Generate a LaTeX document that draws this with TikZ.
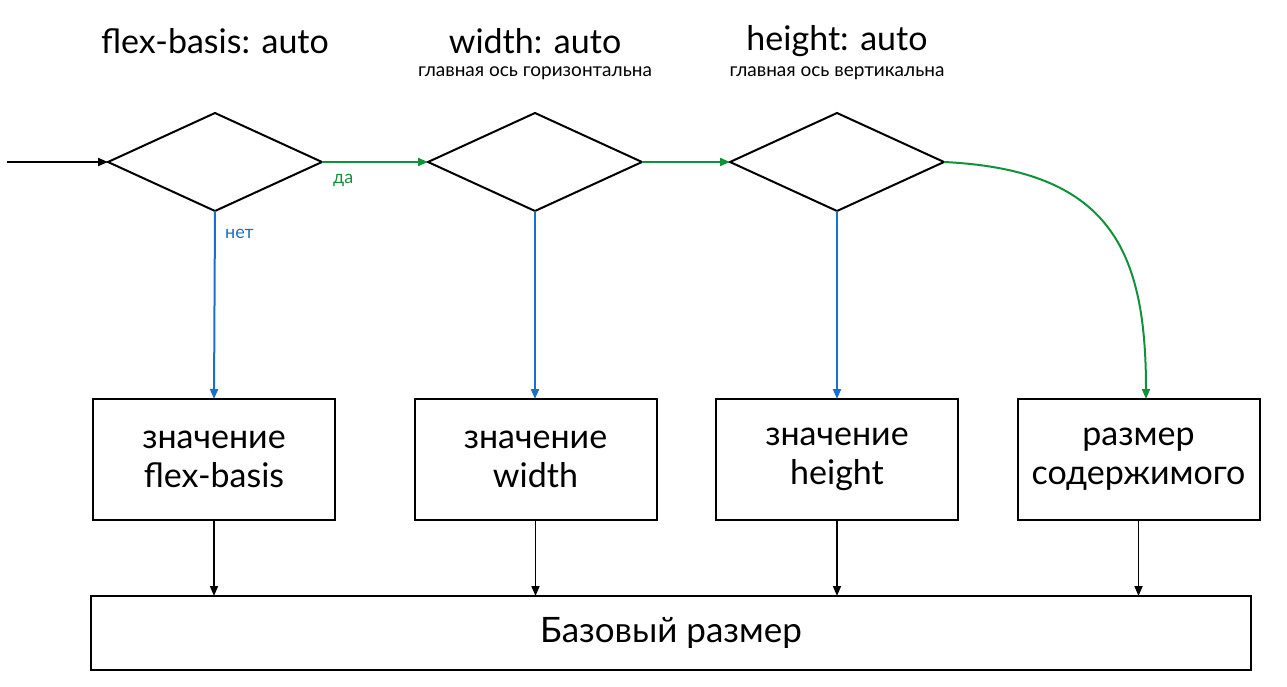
\documentclass[tikz,border=0pt]{standalone}
\usepackage{fontspec}
\setmainfont{Lato}
\usetikzlibrary{shapes.geometric}
\usetikzlibrary{arrows.meta}
\definecolor{yesgreen}{RGB}{16,146,58}
\definecolor{noblue}{RGB}{24,112,204}

\begin{document}
\begin{tikzpicture}[x=1pt,y=-1pt,
  check/.style={diamond,draw,line width=2pt,minimum width=214pt,minimum height=98pt,aspect=2.18,inner sep=0pt,outer sep=0pt},
  valbox/.style={draw,line width=2pt,minimum width=242pt,minimum height=121pt,inner sep=0pt,outer sep=0pt,align=center,font=\fontsize{34}{39}\selectfont},
  title/.style={font=\fontsize{34}{38}\selectfont},
  subtitle/.style={font=\fontsize{19}{22}\selectfont},
  flow/.style={-{Triangle[length=10pt,width=8pt]},line width=2pt},
  lbl/.style={font=\fontsize{18}{21}\selectfont}]
\useasboundingbox (0,0) rectangle (1287,687);
% conditions
\node[check] (basis) at (215,162) {};
\node[check] (width) at (535,162) {};
\node[check] (height) at (837,162) {};
\coordinate (start) at (7,162);
\node[title] at (215,41) {flex-basis: auto};
\node[title] at (535,41) {width: auto};
\node[subtitle] at (535,73) {главная ось горизонтальна};
\node[title] at (837,41) {height: auto};
\node[subtitle] at (837,73) {главная ось вертикальна};
% values
\node[valbox] (vbasis) at (214,459.5) {значение\\flex-basis};
\node[valbox] (vwidth) at (535.5,459.5) {значение\\width};
\node[valbox] (vheight) at (837,459.5) {значение\\height};
\node[valbox] (vcontent) at (1138.5,459.5) {размер\\содержимого};
\node[draw,line width=2pt,minimum width=1160pt,minimum height=74pt,inner sep=0pt,outer sep=0pt,font=\fontsize{35}{40}\selectfont] (base) at (671,633) {Базовый размер};
\coordinate (cend) at (1146,399);
% arrows
\draw[flow] (start) -- (basis.west);
\draw[flow,yesgreen] (basis.east) -- (width.west) node[lbl,pos=0.2,below=8pt] {да};
\draw[flow,yesgreen] (width.east) -- (height.west);
\draw[flow,yesgreen] (height.east) .. controls (1110,170) and (1146,250) .. (cend);
\draw[flow,noblue] (basis.south) -- (vbasis.north) node[lbl,pos=0.12,right=6pt] {нет};
\draw[flow,noblue] (width.south) -- (width.south |- vwidth.north);
\draw[flow,noblue] (height.south) -- (height.south |- vheight.north);
\foreach \v in {vbasis,vwidth,vheight,vcontent}
  \draw[flow,line width=1.6pt] (\v.south) -- (\v.south |- base.north);
\end{tikzpicture}
\end{document}
